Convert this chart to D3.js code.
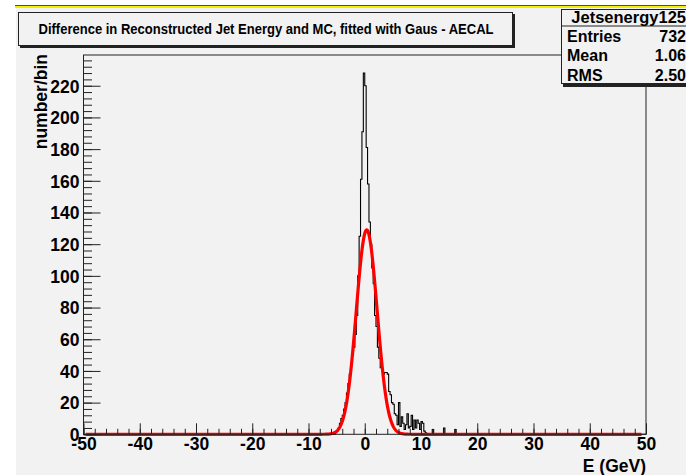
<!DOCTYPE html>
<html>
<head>
<meta charset="utf-8">
<script src="https://cdn.jsdelivr.net/npm/d3@7"></script>
<style>
  body { margin: 0; background: #ffffff; }
  svg { display: block; }
  text { font-family: "Liberation Sans", Arial, Helvetica, sans-serif; font-weight: bold; fill: #000; }
</style>
</head>
<body>
<svg id="chart" width="686" height="475"></svg>
<script>
// Histogram binning: 400 bins of 0.25 GeV over [-50, 50]
const binLow = -50, binHigh = 50, binWidth = 0.25;
// left edge of the first populated bin, then the bin contents from there on
const firstEdge = -5.25;
const counts = [
  1, 2, 4, 7, 10, 12, 16, 20, 26, 32, 38, 44, 50, 55, 63, 75,   // -5.25 .. -1.5
  100, 125, 161, 191, 228, 220, 181, 158, 134, 120, 105,       // -1.25 .. 1.25
  95, 75, 68, 55, 48, 42, 40, 38, 39, 39, 38, 27, 25, 20, 19,  // 1.5 .. 5.0
  13, 12, 6, 20, 5, 11, 7, 3, 6, 13, 4, 5, 12, 3, 9, 4, 9, 7, 3, // 5.25 .. 9.75
  8, 7, 2, 1, 0, 0, 0, 0, 3, 0, 0, 0, 0, 0, 0, 0, 4,           // 10.0 .. 14.0
  0, 0, 0, 0, 0, 0, 0, 3                                       // 14.25 .. 16.0
];
// Gaussian fit result
const fitConstant = 129, fitMean = 0.35, fitSigma = 1.85;
const fitFrom = -49.6, fitTo = 49.2;

const xMajor = d3.range(-50, 51, 10);
const xMinor = d3.range(-50, 51, 2);
const yMajor = d3.range(0, 221, 20);
const yMinor = d3.range(0, 237, 4);
const yMax = 239.4;

const titleText = "Difference in Reconstructed Jet Energy and MC, fitted with Gaus - AECAL";
const statsName = "Jetsenergy125";
const statsLabels = ["Entries", "Mean", "RMS"];
const statsValues = ["732", "1.06", "2.50"];
const xTitle = "E (GeV)";
const yTitle = "number/bin";

const svg = d3.select("#chart");
const frame = { left: 83.5, right: 646, top: 55, bottom: 434.3 };

const x = d3.scaleLinear().domain([binLow, binHigh]).range([frame.left, frame.right]);
const y = d3.scaleLinear().domain([0, yMax]).range([frame.bottom, frame.top]);

// canvas and pad
svg.append("rect").attr("x", 0).attr("y", 0).attr("width", 686).attr("height", 475).attr("fill", "#ffffff");
svg.append("rect").attr("x", 16).attr("y", 8).attr("width", 670).attr("height", 467).attr("fill", "#f2f2f2");
svg.append("rect").attr("x", 15).attr("y", 5).attr("width", 671).attr("height", 1).attr("fill", "#5a5a00");
svg.append("rect").attr("x", 15).attr("y", 6).attr("width", 671).attr("height", 2).attr("fill", "#f0f000");

// full histogram content
const nBins = Math.round((binHigh - binLow) / binWidth);
const offset = Math.round((firstEdge - binLow) / binWidth);
const content = d3.range(nBins).map(i => {
  const k = i - offset;
  return (k >= 0 && k < counts.length) ? counts[k] : 0;
});

// step outline
const pts = [[x(binLow), y(0)]];
content.forEach((c, i) => {
  const x0 = x(binLow + i * binWidth), x1 = x(binLow + (i + 1) * binWidth);
  pts.push([x0, y(c)], [x1, y(c)]);
});
pts.push([x(binHigh), y(0)]);
svg.append("path")
  .attr("d", d3.line()(pts))
  .attr("fill", "none")
  .attr("stroke", "#000")
  .attr("stroke-width", 1.1);

// fitted gaussian
const gaus = v => fitConstant * Math.exp(-0.5 * Math.pow((v - fitMean) / fitSigma, 2));
const fitPts = d3.range(fitFrom, fitTo + 1e-9, 0.05).map(v => [x(v), y(gaus(v))]);
svg.append("path")
  .attr("d", d3.line()(fitPts))
  .attr("fill", "none")
  .attr("stroke", "#ff0000")
  .attr("stroke-width", 3.2)
  .attr("stroke-linejoin", "round");

// frame
svg.append("rect")
  .attr("x", frame.left).attr("y", frame.top)
  .attr("width", frame.right - frame.left).attr("height", frame.bottom - frame.top)
  .attr("fill", "none").attr("stroke", "#222").attr("stroke-width", 1);

const plain = d => String(d);

// y axis: ticks pointing into the frame, labels on the left
const yAxisG = svg.append("g").attr("transform", `translate(${frame.left},0)`);
yAxisG.append("g").call(d3.axisLeft(y).tickValues(yMinor).tickSizeInner(-8.5).tickSizeOuter(0).tickFormat(""));
yAxisG.append("g").call(d3.axisLeft(y).tickValues(yMajor).tickSizeInner(-17).tickSizeOuter(0).tickPadding(4).tickFormat(plain));
yAxisG.selectAll(".domain").remove();
yAxisG.selectAll("line").attr("stroke", "#222");
yAxisG.selectAll("text").attr("font-size", 17.5).attr("font-family", null).attr("dy", "0.36em");

// x axis
const xAxisG = svg.append("g").attr("transform", `translate(0,${frame.bottom})`);
xAxisG.append("g").call(d3.axisBottom(x).tickValues(xMinor).tickSizeInner(-5.5).tickSizeOuter(0).tickFormat(""));
xAxisG.append("g").call(d3.axisBottom(x).tickValues(xMajor).tickSizeInner(-11).tickSizeOuter(0).tickPadding(3).tickFormat(plain));
xAxisG.selectAll(".domain").remove();
xAxisG.selectAll("line").attr("stroke", "#222");
xAxisG.selectAll("text").attr("font-size", 17.5).attr("font-family", null);

// axis titles
svg.append("text").attr("x", frame.right).attr("y", 472)
  .attr("text-anchor", "end").attr("font-size", 17.5).text(xTitle);
svg.append("text").attr("transform", `translate(47,${frame.top - 1}) rotate(-90)`)
  .attr("text-anchor", "end").attr("font-size", 17.5).text(yTitle);

// title box with shadow
svg.append("rect").attr("x", 20).attr("y", 14).attr("width", 495).attr("height", 34).attr("fill", "#222");
svg.append("rect").attr("x", 18.5).attr("y", 12.5).attr("width", 494).attr("height", 33)
  .attr("fill", "#f2f2f2").attr("stroke", "#222").attr("stroke-width", 1);
svg.append("text").attr("x", 38.5).attr("y", 34)
  .attr("font-size", 14).attr("textLength", 455).attr("lengthAdjust", "spacingAndGlyphs")
  .text(titleText);

// statistics box
svg.append("rect").attr("x", 563).attr("y", 11).attr("width", 130).attr("height", 76).attr("fill", "#222");
svg.append("rect").attr("x", 561.5).attr("y", 9.5).attr("width", 130).attr("height", 74)
  .attr("fill", "#f2f2f2").attr("stroke", "#222").attr("stroke-width", 1);
svg.append("line").attr("x1", 561.5).attr("x2", 686).attr("y1", 26).attr("y2", 26)
  .attr("stroke", "#222").attr("stroke-width", 1.2);
svg.append("text").attr("x", 686).attr("y", 22.5).attr("text-anchor", "end")
  .attr("font-size", 16.5).text(statsName);
const rowY = d3.scalePoint().domain(statsLabels).range([42, 80.5]);
svg.selectAll("text.slabel").data(statsLabels).join("text").attr("class", "slabel")
  .attr("x", 567).attr("y", d => rowY(d)).attr("font-size", 16).text(d => d);
svg.selectAll("text.svalue").data(statsValues).join("text").attr("class", "svalue")
  .attr("x", 686).attr("y", (d, i) => rowY(statsLabels[i])).attr("text-anchor", "end")
  .attr("font-size", 16).text(d => d);
</script>
</body>
</html>
